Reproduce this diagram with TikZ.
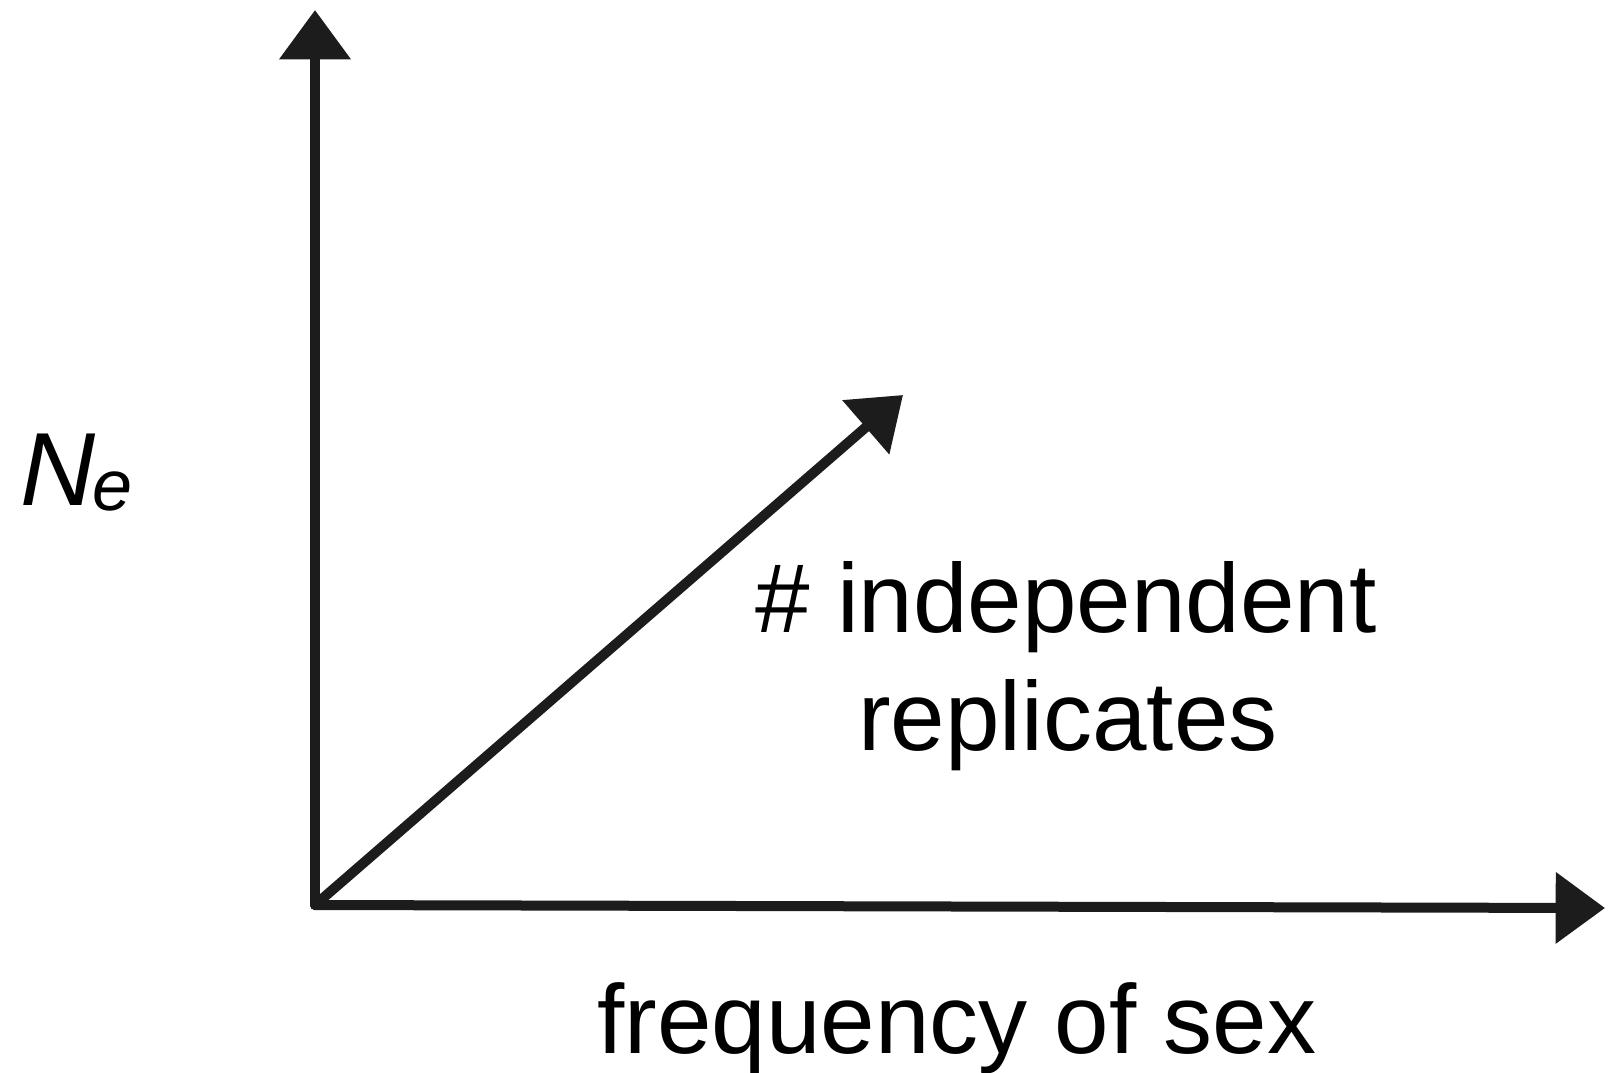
\documentclass[tikz,border=0pt]{standalone}
\usepackage{fontspec}
\setmainfont{Liberation Sans}
\usetikzlibrary{arrows.meta}
\definecolor{ink}{HTML}{1C1C1C}
\tikzset{
  axis/.style={draw=ink, line width=7.5pt, line cap=round,
    -{Triangle[length=37pt,width=52pt]}},
  lbl/.style={inner sep=0pt, anchor=base, font=\fontsize{73.5}{88}\selectfont}
}
\begin{document}
\begin{tikzpicture}[x=0.75pt,y=-0.75pt]
\useasboundingbox (0,0) rectangle (1608,1072);
\coordinate (o) at (315,905);
\coordinate (ytip) at (315,10);
\coordinate (xtip) at (1605,908);
\coordinate (dtip) at (903,395);
\draw[axis] (o) -- (ytip);
\draw[axis] (o) -- (xtip);
\draw[axis] (o) -- (dtip);
\node[lbl, anchor=base west] (ne) at (20,505) {\itshape\fontsize{78}{90}\selectfont N\kern-2pt\raisebox{-4pt}{\fontsize{54}{60}\selectfont e}};
\node[lbl] (rep1) at (1066,632) {\# independent};
\node[lbl] (rep2) at (1068,750) {replicates};
\node[lbl] (freq) at (957,1053) {frequency of sex};
\end{tikzpicture}
\end{document}
